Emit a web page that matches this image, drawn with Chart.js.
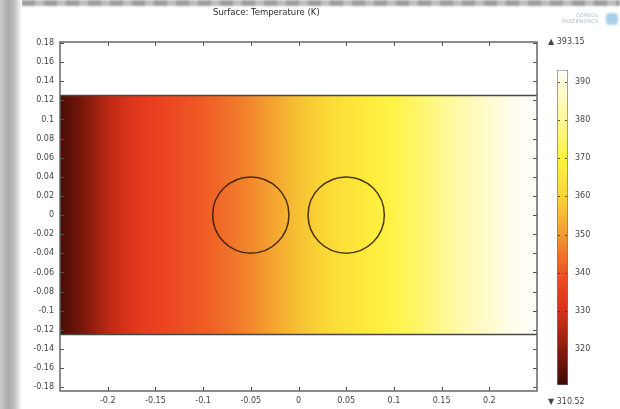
<!DOCTYPE html>
<html>
<head>
<meta charset="utf-8">
<script src="https://cdn.jsdelivr.net/npm/chart.js@4.4.0/dist/chart.umd.min.js"></script>
<style>
  html, body { margin: 0; padding: 0; background: #fff; }
  body { width: 620px; height: 409px; position: relative; overflow: hidden; font-family: "DejaVu Sans", sans-serif; }
  .strip-top { position: absolute; left: 0; top: 0; width: 620px; height: 6px;
    background: repeating-linear-gradient(to right, #9c9c9c 0 13px, #bdbdbd 13px 22px); filter: blur(1px); }
  .strip-left { position: absolute; left: 0; top: 0; width: 22px; height: 409px;
    background: linear-gradient(to right, #cacaca 0, #ababab 9px, #bcbcbc 14px, #e4e4e4 19px, #fff 22px); }
  #main { position: absolute; left: 0; top: 0; }
  #bar { position: absolute; left: 540px; top: 58px; }
  .txt { position: absolute; font-size: 8px; color: #444; white-space: nowrap; }
  .title { left: 213px; top: 7px; font-size: 8.5px; color: #2a2a2a; }
  .logo { position: absolute; right: 22px; top: 12px; font-size: 5px; line-height: 6px; color: #a9bccb; text-align: right; }
  .logo-icon { position: absolute; left: 606px; top: 13px; width: 12px; height: 12px; border-radius: 4px; background: #a9d0e8; filter: blur(0.8px); }
</style>
</head>
<body>
<div class="strip-top"></div>
<div class="strip-left"></div>
<canvas id="main" width="620" height="409"></canvas>
<canvas id="bar" width="80" height="339"></canvas>
<div class="txt title">Surface: Temperature (K)</div>
<div class="logo">COMSOL<br>MULTIPHYSICS</div>
<div class="logo-icon"></div>
<div class="txt" style="left:548px; top:37px;">▲ 393.15</div>
<div class="txt" style="left:548px; top:397px;">▼ 310.52</div>
<script>
// axis ticks
const xTicks = [-0.2, -0.15, -0.1, -0.05, 0, 0.05, 0.1, 0.15, 0.2]
const yTicks = [-0.18, -0.16, -0.14, -0.12, -0.1, -0.08, -0.06, -0.04, -0.02, 0,
  0.02, 0.04, 0.06, 0.08, 0.1, 0.12, 0.14, 0.16, 0.18]
const barTicks = [320, 330, 340, 350, 360, 370, 380, 390]

// geometry: channel and the two cylinders
const rectX = [-0.25, 0.25]
const rectY = [-0.125, 0.125]
const circleX = [-0.05, 0.05]
const circleY = [0, 0]
const circleR = 0.04

// temperature (K) across the channel, left to right
const profileX = [-0.25, -0.225, -0.2, -0.175, -0.15, -0.125, -0.1, -0.075, -0.05, -0.025, 0,
  0.025, 0.05, 0.075, 0.1, 0.125, 0.15, 0.175, 0.2, 0.225, 0.25]
const profileT = [312, 318, 326, 332, 335.5, 338, 341, 344, 347.5, 352, 356.5,
  360.5, 364, 367.5, 371, 375, 379.5, 384, 388, 391.5, 393]

const tMin = 310.52
const tMax = 393.15

// colour table for the temperature scale
const cmapT = [310.52, 320, 330, 335, 340, 345, 350, 355, 360, 365, 370, 375, 380, 385, 390, 393.15]
const cmapColor = ['#3c0a04', '#8c1c0c', '#d8321a', '#e93d20', '#ee5623', '#f0752a', '#f39a2e', '#f6b932',
  '#f9d436', '#fde63a', '#fff23e', '#fff66a', '#fff893', '#fffab8', '#fffcdc', '#ffffff']

function hexRgb(h) {
  return [1, 3, 5].map(i => parseInt(h.slice(i, i + 2), 16))
}

function tempColor(t) {
  if (t <= cmapT[0]) return cmapColor[0]
  for (let i = 1; i < cmapT.length; i++) {
    if (t <= cmapT[i]) {
      const f = (t - cmapT[i - 1]) / (cmapT[i] - cmapT[i - 1])
      const a = hexRgb(cmapColor[i - 1]), b = hexRgb(cmapColor[i])
      const c = a.map((v, k) => Math.round(v + (b[k] - v) * f))
      return 'rgb(' + c.join(',') + ')'
    }
  }
  return cmapColor[cmapColor.length - 1]
}

function fieldGradient(context) {
  const chart = context.chart
  if (!chart.chartArea) return tempColor(profileT[0])
  const x = chart.scales.x
  const x0 = x.getPixelForValue(profileX[0])
  const x1 = x.getPixelForValue(profileX[profileX.length - 1])
  const g = chart.ctx.createLinearGradient(x0, 0, x1, 0)
  profileX.forEach((v, i) => {
    g.addColorStop((v - profileX[0]) / (profileX[profileX.length - 1] - profileX[0]), tempColor(profileT[i]))
  })
  return g
}

function barGradient(context) {
  const chart = context.chart
  if (!chart.chartArea) return tempColor(tMin)
  const y = chart.scales.y
  const g = chart.ctx.createLinearGradient(0, y.getPixelForValue(tMin), 0, y.getPixelForValue(tMax))
  cmapT.forEach((t, i) => g.addColorStop((t - tMin) / (tMax - tMin), cmapColor[i]))
  return g
}

const tickFont = { family: 'DejaVu Sans', size: 8 }
const fmt = v => String(+Number(v).toFixed(2))

// frame round the plot with short inward ticks on every side
const frameTicks = {
  id: 'frameTicks',
  afterDatasetsDraw(chart) {
    const { ctx, chartArea: a, scales: { x, y } } = chart
    ctx.save()
    ctx.strokeStyle = '#555'
    ctx.lineWidth = 1
    ctx.beginPath()
    x.ticks.forEach(t => {
      const px = Math.round(x.getPixelForValue(t.value)) + 0.5
      ctx.moveTo(px, a.top); ctx.lineTo(px, a.top + 4)
      ctx.moveTo(px, a.bottom); ctx.lineTo(px, a.bottom - 4)
    })
    y.ticks.forEach(t => {
      const py = Math.round(y.getPixelForValue(t.value)) + 0.5
      ctx.moveTo(a.left, py); ctx.lineTo(a.left + 4, py)
      ctx.moveTo(a.right, py); ctx.lineTo(a.right - 4, py)
    })
    ctx.stroke()
    ctx.strokeStyle = '#666'
    ctx.lineWidth = 1.5
    ctx.strokeRect(a.left, a.top, a.width, a.height)
    ctx.restore()
  }
}

const mainConfig = {
  type: 'scatter',
  data: {
    datasets: [
      {
        // cylinders, drawn on top of the channel
        data: circleX.map((v, i) => ({ x: v, y: circleY[i] })),
        order: 0,
        pointRadius: ctx => {
          const x = ctx.chart.scales.x
          return x ? x.getPixelForValue(circleR) - x.getPixelForValue(0) : 0
        },
        pointBackgroundColor: 'rgba(0,0,0,0)',
        pointBorderColor: 'rgba(45,25,5,0.85)',
        pointBorderWidth: 1.5,
      },
      {
        // channel, coloured by temperature
        data: rectX.map(v => ({ x: v, y: rectY[1] })),
        order: 2,
        showLine: true,
        fill: { value: rectY[0] },
        backgroundColor: fieldGradient,
        borderColor: '#474747',
        borderWidth: 1.5,
        pointRadius: 0,
      },
      {
        data: rectX.map(v => ({ x: v, y: rectY[0] })),
        order: 1,
        showLine: true,
        borderColor: '#474747',
        borderWidth: 1.5,
        pointRadius: 0,
      },
    ],
  },
  options: {
    responsive: false,
    animation: false,
    events: [],
    layout: { padding: { left: 0, top: 42, right: 83, bottom: 0 } },
    plugins: { legend: { display: false }, tooltip: { enabled: false } },
    scales: {
      x: {
        type: 'linear',
        min: -0.25,
        max: 0.25,
        afterBuildTicks: s => { s.ticks = xTicks.map(v => ({ value: v })) },
        afterFit: s => { s.height = 18 },
        grid: { display: false, drawTicks: false },
        border: { display: false },
        ticks: { color: '#444', font: tickFont, padding: 5, maxRotation: 0, callback: fmt },
      },
      y: {
        type: 'linear',
        min: -0.184,
        max: 0.181,
        afterBuildTicks: s => { s.ticks = yTicks.map(v => ({ value: v })) },
        afterFit: s => { s.width = 60 },
        grid: { display: false, drawTicks: false },
        border: { display: false },
        ticks: { color: '#444', font: tickFont, padding: 6, callback: fmt },
      },
    },
  },
  plugins: [frameTicks],
}

new Chart(document.getElementById('main'), mainConfig)

// small tick marks on both edges of the colour bar
const barMarks = {
  id: 'barMarks',
  afterDatasetsDraw(chart) {
    const { ctx, chartArea: a, scales: { y } } = chart
    ctx.save()
    ctx.strokeStyle = 'rgba(60,40,20,0.8)'
    ctx.lineWidth = 1
    ctx.beginPath()
    y.ticks.forEach(t => {
      const py = Math.round(y.getPixelForValue(t.value)) + 0.5
      ctx.moveTo(a.left + 1, py); ctx.lineTo(a.left + 3, py)
      ctx.moveTo(a.right - 1, py); ctx.lineTo(a.right - 3, py)
    })
    ctx.stroke()
    ctx.restore()
  }
}

const barConfig = {
  type: 'bar',
  data: {
    labels: [''],
    datasets: [
      {
        data: [[tMin, tMax]],
        backgroundColor: barGradient,
        borderColor: '#777',
        borderWidth: 1,
        borderSkipped: false,
        barPercentage: 1,
        categoryPercentage: 1,
      },
    ],
  },
  options: {
    responsive: false,
    animation: false,
    events: [],
    layout: { padding: { left: 17, top: 10, right: 0, bottom: 10 } },
    plugins: { legend: { display: false }, tooltip: { enabled: false } },
    scales: {
      x: { display: false },
      y: {
        position: 'right',
        min: tMin,
        max: tMax,
        afterBuildTicks: s => { s.ticks = barTicks.map(v => ({ value: v })) },
        afterFit: s => { s.width = 52 },
        grid: { display: false, drawTicks: false },
        border: { display: false },
        ticks: { color: '#444', font: tickFont, padding: 7 },
      },
    },
  },
  plugins: [barMarks],
}

new Chart(document.getElementById('bar'), barConfig)
</script>
</body>
</html>
